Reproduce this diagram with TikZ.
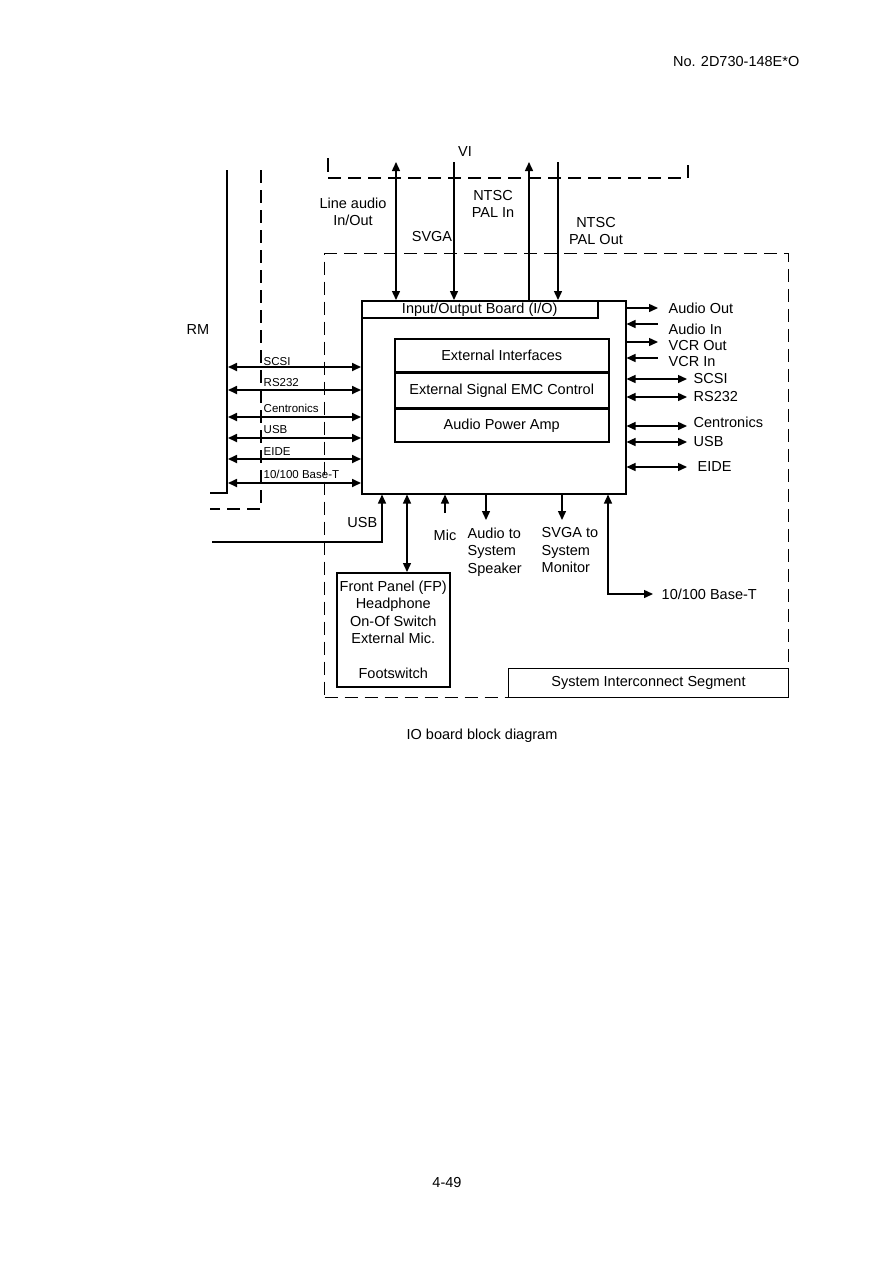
\documentclass[tikz,border=0pt]{standalone}
\usepackage{fontspec}
\setmainfont{Liberation Sans}
\usetikzlibrary{positioning, calc, arrows.meta}
\tikzset{
  big box/.style={draw, line width=1.5, inner sep=0},
  big region/.style={draw, dashed, dash pattern=on 13pt off 7pt, line width=1.2},
  big wire/.style={line width=1.4},
  big out/.style={big wire, -{Triangle[length=9pt,width=8pt]}},
  big in/.style={big wire, {Triangle[length=9pt,width=8pt]}-},
  big both/.style={big wire, {Triangle[length=9pt,width=8pt]}-{Triangle[length=9pt,width=8pt]}},
  lbl/.style={font=\fontsize{14.5}{17.5}\selectfont, inner sep=0.5, align=center},
  lbl sm/.style={font=\fontsize{11.5}{13}\selectfont, inner sep=0.5}
}

\begin{document}
\begin{tikzpicture}[x=1pt, y=-1pt]
\useasboundingbox (0,0) rectangle (893,1263);

\node[lbl, anchor=east] (docno) at (800,62) {No. 2D730-148E*O};

% boards
\node[big region, minimum width=464pt, minimum height=444pt, anchor=north west] (r0) at (324,253) {};
\node[big box, minimum width=264pt, minimum height=193pt, anchor=north west] (io) at (361,300) {};
\node[big box, lbl, inner sep=0, minimum width=236pt, minimum height=17pt, anchor=north west] (iot) at (io.north west) {Input/Output Board (I/O)};
\node[big box, lbl, inner sep=0, minimum width=214pt, minimum height=33pt, anchor=north west] (ext1) at (394,338) {External Interfaces};
\node[big box, lbl, inner sep=0, minimum width=214pt, minimum height=34pt, below=0pt of ext1] (ext2) {External Signal EMC Control};
\node[big box, lbl, inner sep=0, minimum width=214pt, minimum height=33pt, below=0pt of ext2] (ext3) {Audio Power Amp};
\node[big box, lbl, inner sep=0, fill=white, minimum width=280pt, minimum height=29pt, anchor=south east] (sis) at (r0.south east) {System Interconnect Segment};
\node[big box, lbl, inner sep=0, minimum width=113pt, minimum height=114pt, anchor=north west] (fp) at (336,572) {Front Panel (FP)\\Headphone\\On-Of Switch\\External Mic.\\[17.5pt]Footswitch};

% VI
\coordinate (viL) at (328,178);
\coordinate (viR) at (688,178);
\draw[big wire] (328,158) -- (328,172);
\draw[big region] (viL) -- (viR) -- (688,158);
\node[lbl] (vi) at (465,152) {VI};

\coordinate (la) at (396,162);
\coordinate (sv) at (454,162);
\coordinate (ntin) at (529,162);
\coordinate (ntout) at (558,162);
\draw[big both] (la) -- (la |- io.north);
\draw[big out] (sv) -- (sv |- io.north);
\draw[big in] (ntin) -- (ntin |- io.north);
\draw[big out] (ntout) -- (ntout |- io.north);
\node[lbl] (lal) at (353,212) {Line audio\\In/Out};
\node[lbl] (svl) at (432,237) {SVGA};
\node[lbl] (ntinl) at (493,204) {NTSC\\PAL In};
\node[lbl] (ntoutl) at (596,231) {NTSC\\PAL Out};

% RM
\coordinate (rmT) at (227,170);
\coordinate (rmB) at (227,493);
\coordinate (rdT) at (261,170);
\coordinate (rdB) at (261,509);
\draw[big wire] (rmT) -- (rmB) -- (210,493);
\draw[big region] (rdT) -- (rdB) -- (210,509);
\node[lbl] (rm) at (198,330) {RM};

\foreach \yy/\ly/\txt in {367/365/SCSI, 390/386/RS232, 417/412/Centronics, 438/433/USB, 459/455/EIDE, 483/478/{10/100 Base-T}} {
  \coordinate (l\yy) at (228,\yy);
  \draw[big both, line width=1.7] (l\yy) -- (l\yy -| io.west);
  \node[lbl sm, anchor=base west] (ll\yy) at (263,\ly) {\txt};
}

% right side
\foreach \yy/\ly/\txt in {308/308/Audio Out, 342/346/VCR Out} {
  \coordinate (r\yy) at (658,\yy);
  \draw[big out] (r\yy -| io.east) -- (r\yy);
  \node[lbl, anchor=west] (rl\yy) at (668,\ly) {\txt};
}
\foreach \yy/\ly/\txt in {324/329/Audio In, 358/362/VCR In} {
  \coordinate (r\yy) at (658,\yy);
  \draw[big in] (r\yy -| io.east) -- (r\yy);
  \node[lbl, anchor=west] (rl\yy) at (668,\ly) {\txt};
}
\foreach \yy/\ly/\lx/\txt in {379/379/693/SCSI, 397/397/693/RS232, 426/422/693/Centronics, 442/442/693/USB, 467/467/697/EIDE} {
  \coordinate (r\yy) at (687,\yy);
  \draw[big both] (r\yy -| io.east) -- (r\yy);
  \node[lbl, anchor=west] (rl\yy) at (\lx,\ly) {\txt};
}

% bottom
\coordinate (usbE) at (212,542);
\coordinate (usbC) at (382,542);
\draw[big out] (usbE) -- (usbC) -- (usbC |- io.south);
\node[lbl, anchor=east] (usbl) at (378,523) {USB};

\coordinate (fpA) at (407,572);
\draw[big both] (fpA |- io.south) -- (fpA);

\coordinate (mic) at (445,513);
\draw[big out] (mic) -- (mic |- io.south);
\node[lbl] (micl) at (445,535) {Mic};

\coordinate (spk) at (486,520);
\draw[big out] (spk |- io.south) -- (spk);
\node[lbl, align=left, anchor=north west] (spkl) at (467,527) {Audio to\\System\\Speaker};

\coordinate (mon) at (562,520);
\draw[big out] (mon |- io.south) -- (mon);
\node[lbl, align=left, anchor=north west] (monl) at (541,527) {SVGA to\\System\\Monitor};

\coordinate (bt) at (608,594);
\coordinate (btE) at (653,594);
\draw[big both] (bt |- io.south) -- (bt) -- (btE);
\node[lbl, anchor=west] (btl) at (661,594) {10/100 Base-T};

\node[lbl] (cap) at (482,736) {IO board block diagram};
\node[lbl] (pg) at (447,1182) {4-49};

\end{tikzpicture}
\end{document}
